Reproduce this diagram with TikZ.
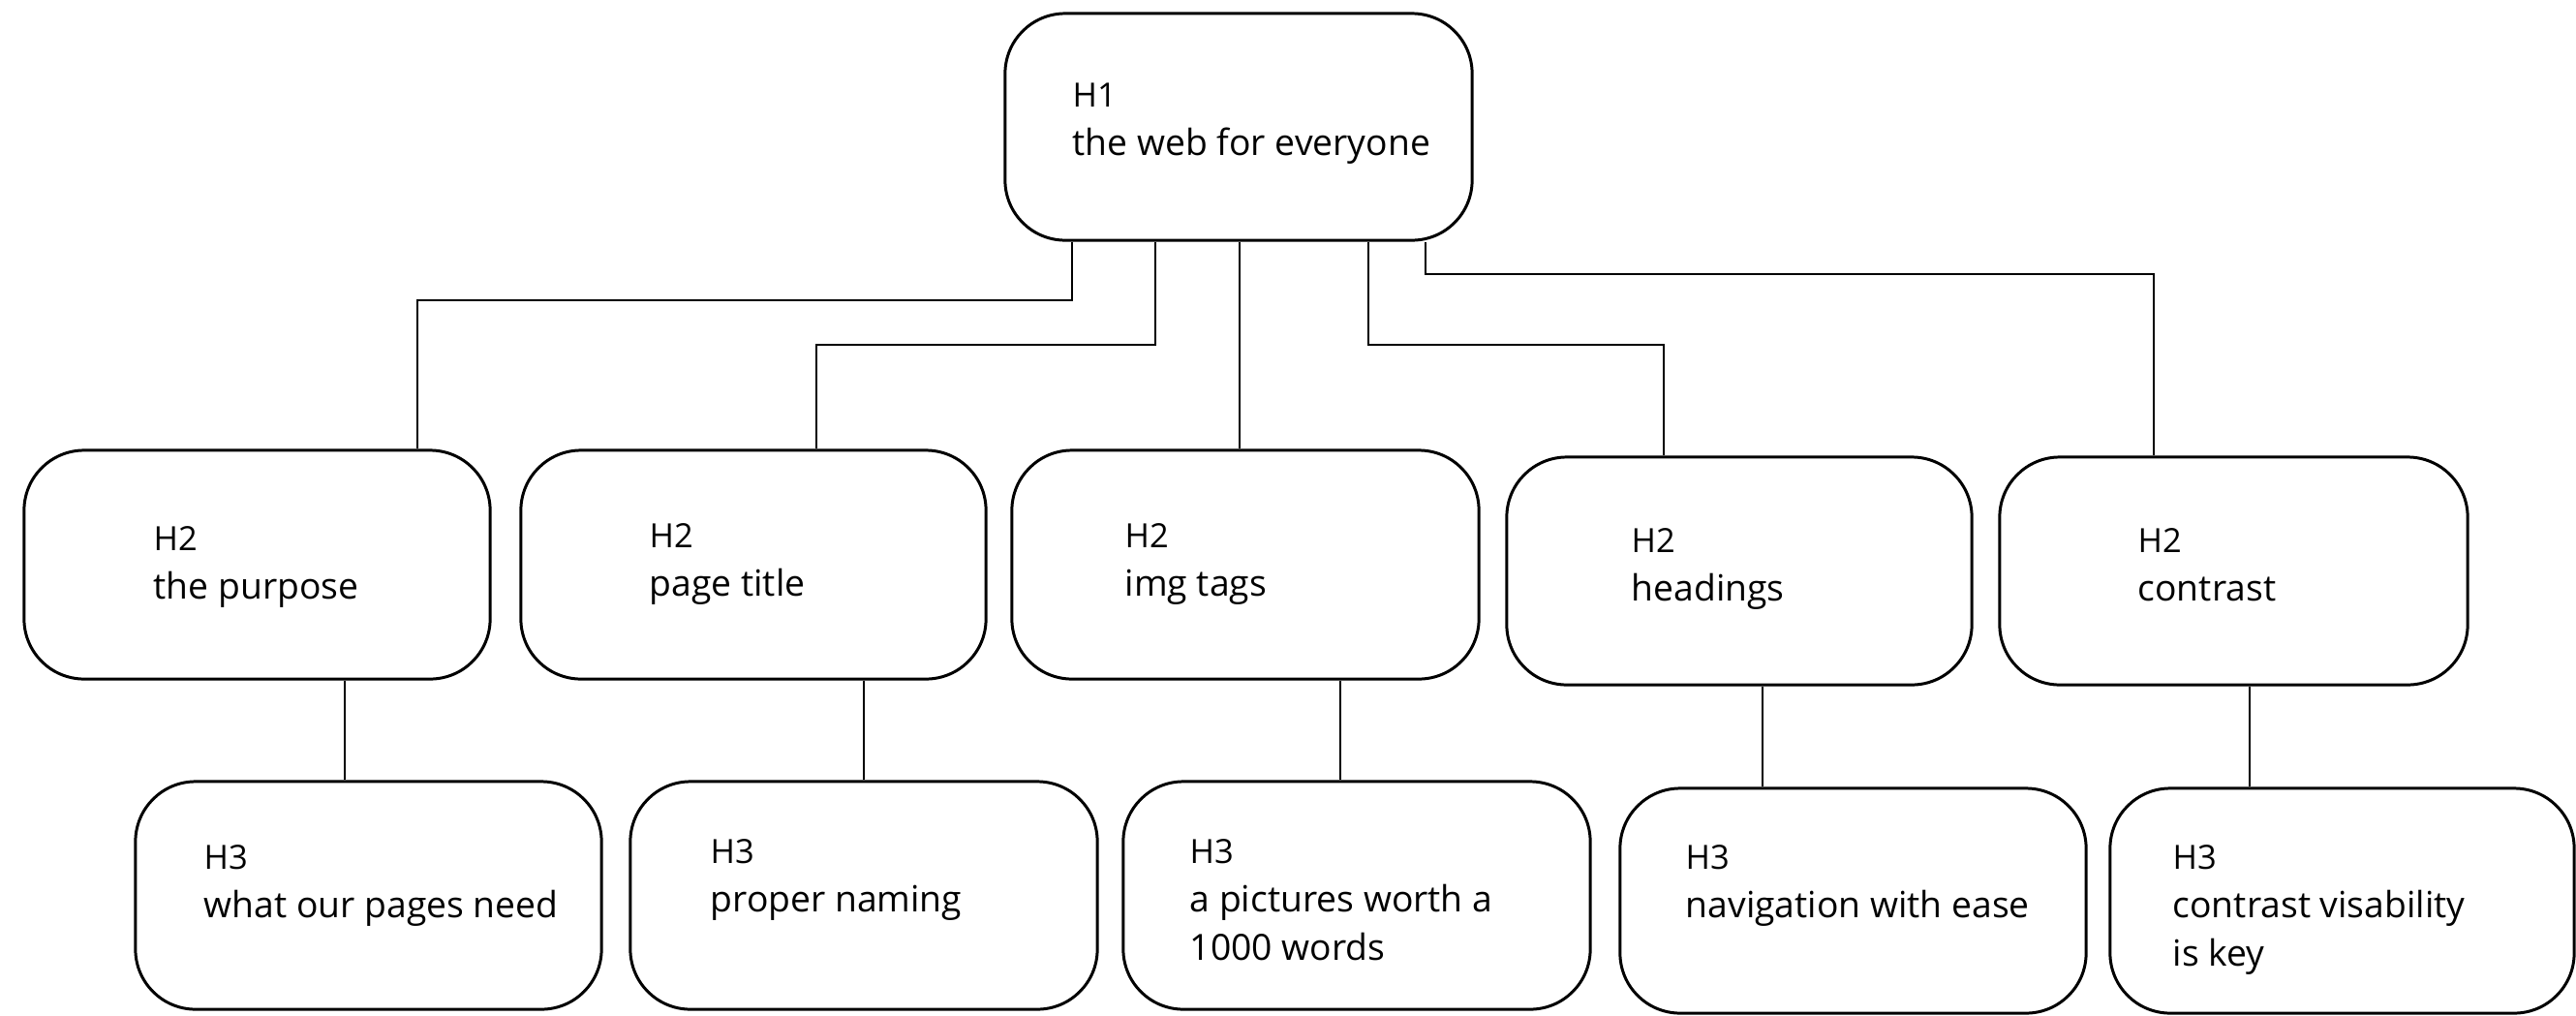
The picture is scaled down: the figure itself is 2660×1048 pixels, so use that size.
\documentclass[tikz,border=0pt]{standalone}
\usepackage{fontspec}
\setmainfont{Open Sans}
\newcommand\lbl[1]{{\fontsize{9.8}{14.2}\selectfont #1}}
\begin{document}
\begin{tikzpicture}[x=0.01cm,y=-0.01cm,
  box/.style={draw=black, line width=0.85pt, rounded corners=0.62cm, inner sep=0pt},
  txt/.style={anchor=north west, inner sep=0pt, align=left, text=black, font=\fontsize{10.6}{14.2}\selectfont},
  conn/.style={draw=black, line width=0.75pt}]
\useasboundingbox (0,0) rectangle (2660,1048);
% H1
\node[box, minimum width=4.82cm, minimum height=2.34cm] (h1) at (1279,131) {};
% H2 row
\node[box, minimum width=4.81cm, minimum height=2.36cm] (pa) at (265.5,583) {};
\node[box, minimum width=4.80cm, minimum height=2.36cm] (pb) at (778,583) {};
\node[box, minimum width=4.82cm, minimum height=2.36cm] (pc) at (1286,583) {};
\node[box, minimum width=4.80cm, minimum height=2.35cm] (pd) at (1796,589.5) {};
\node[box, minimum width=4.83cm, minimum height=2.35cm] (pe) at (2306.5,589.5) {};
% H3 row
\node[box, minimum width=4.81cm, minimum height=2.35cm] (qa) at (380.5,924.5) {};
\node[box, minimum width=4.82cm, minimum height=2.35cm] (qb) at (892,924.5) {};
\node[box, minimum width=4.82cm, minimum height=2.35cm] (qc) at (1401,924.5) {};
\node[box, minimum width=4.81cm, minimum height=2.32cm] (qd) at (1913.5,930) {};
\node[box, minimum width=4.79cm, minimum height=2.32cm] (qe) at (2418.5,930) {};
% texts
\node[txt] (t1) at (1107,85) {\lbl{H1}\\the web for everyone};
\node[txt] (ta) at (158,543) {\lbl{H2}\\the purpose};
\node[txt] (tb) at (670,540) {\lbl{H2}\\page title};
\node[txt] (tc) at (1161,540) {\lbl{H2}\\img tags};
\node[txt] (td) at (1684,545) {\lbl{H2}\\headings};
\node[txt] (te) at (2207,545) {\lbl{H2}\\contrast};
\node[txt] (ua) at (210,872) {\lbl{H3}\\what our pages need};
\node[txt] (ub) at (733,866) {\lbl{H3}\\proper naming};
\node[txt] (uc) at (1228,866) {\lbl{H3}\\a pictures worth a\\1000 words};
\node[txt] (ud) at (1740,872) {\lbl{H3}\\navigation with ease};
\node[txt] (ue) at (2243,872) {\lbl{H3}\\contrast visability\\is key};
% connector bends
\coordinate (k1) at (1107,310); \coordinate (k1b) at (431,310);
\coordinate (k2) at (1193,356); \coordinate (k2b) at (843,356);
\coordinate (k3) at (1280,356);
\coordinate (k4) at (1413,356); \coordinate (k4b) at (1718,356);
\coordinate (k5) at (1472,283); \coordinate (k5b) at (2224,283);
\draw[conn] (h1.south -| k1) -- (k1) -- (k1b) -- (pa.north -| k1b);
\draw[conn] (h1.south -| k2) -- (k2) -- (k2b) -- (pb.north -| k2b);
\draw[conn] (h1.south -| k3) -- (pc.north -| k3);
\draw[conn] (h1.south -| k4) -- (k4) -- (k4b) -- (pd.north -| k4b);
\draw[conn] (h1.south -| k5) -- (k5) -- (k5b) -- (pe.north -| k5b);
% H2 -> H3
\coordinate (m1) at (356,750);
\coordinate (m2) at (892,750);
\coordinate (m3) at (1384,750);
\coordinate (m4) at (1820,750);
\coordinate (m5) at (2323,750);
\draw[conn] (pa.south -| m1) -- (qa.north -| m1);
\draw[conn] (pb.south -| m2) -- (qb.north -| m2);
\draw[conn] (pc.south -| m3) -- (qc.north -| m3);
\draw[conn] (pd.south -| m4) -- (qd.north -| m4);
\draw[conn] (pe.south -| m5) -- (qe.north -| m5);
\end{tikzpicture}
\end{document}
